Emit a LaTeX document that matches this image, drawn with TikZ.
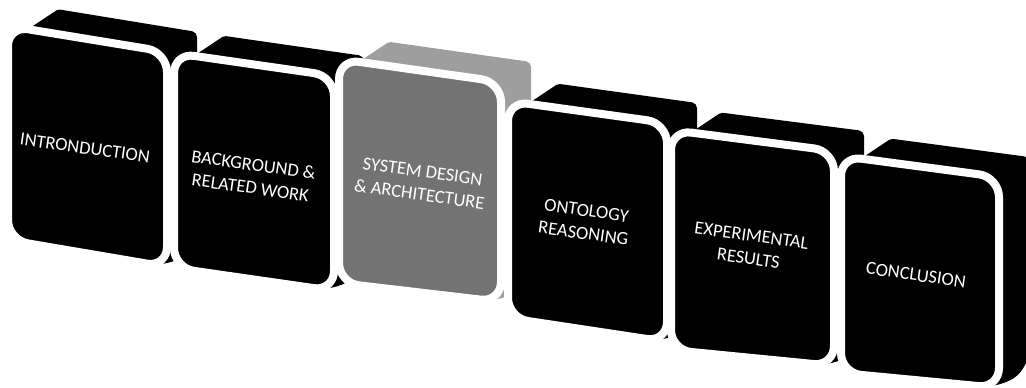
\documentclass[tikz,border=0pt]{standalone}
\usepackage{fontspec}
\setmainfont{Carlito}
\usetikzlibrary{calc}
\definecolor{halftone}{gray}{0.45}
\definecolor{halftop}{gray}{0.62}
\newcommand\slabbox[8]{%
  \pgfmathsetmacro\aL{#1-4}\pgfmathsetmacro\aR{#2+4}%
  \pgfmathsetmacro\aTL{#3-4}\pgfmathsetmacro\aTR{#4-4}%
  \pgfmathsetmacro\aBL{#5+4}\pgfmathsetmacro\aBR{#6+4}%
  \pgfmathsetmacro\aPx{\aL+20}%
  \pgfmathsetmacro\aPy{\aTL+20*(\aTR-\aTL)/(\aR-\aL)}%
  \fill[#8] (\aPx,\aPy) [rounded corners=2] -- ++(30,-20) [rounded corners=5]
     -- ({\aR+30},{\aTR-20}) [rounded corners=18]
     -- ({\aR+30},{\aBR-20}) -- (\aR,\aBR) -- (\aL,\aBL) [rounded corners=2] -- cycle;
  \filldraw[fill=#7, draw=white, line width=8, rounded corners=20]
     (\aL,\aTL) -- (\aR,\aTR) -- (\aR,\aBR) -- (\aL,\aBL) -- cycle;
}
\tikzset{lbl/.style={text=white, font=\fontsize{18.5}{23}\selectfont, rotate=-8,
  align=center, inner sep=0pt}}
\begin{document}
\begin{tikzpicture}[x=1pt,y=-1pt]
\useasboundingbox (0,0) rectangle (1026,388);
\slabbox{12}{163}{30}{56}{236}{263}{black}{black}
\slabbox{178}{330}{57}{80}{264}{287}{black}{black}
\slabbox{343}{497}{63}{86}{279}{298}{halftone}{halftop}
\slabbox{512}{663}{105}{127}{314}{338}{black}{black}
\slabbox{675}{830}{134}{155}{346}{362}{black}{black}
\slabbox{845}{995}{160}{181}{369}{384}{black}{black}
\node[lbl] (t1) at (85,148) {INTRONDUCTION};
\node[lbl] (t2) at (252,176) {BACKGROUND \&\\RELATED WORK};
\node[lbl] (t3) at (421,183) {SYSTEM DESIGN\\\& ARCHITECTURE};
\node[lbl] (t4) at (585,222) {ONTOLOGY\\REASONING};
\node[lbl] (t5) at (750,247) {EXPERIMENTAL\\RESULTS};
\node[lbl] (t6) at (916,275) {CONCLUSION};
\end{tikzpicture}
\end{document}
